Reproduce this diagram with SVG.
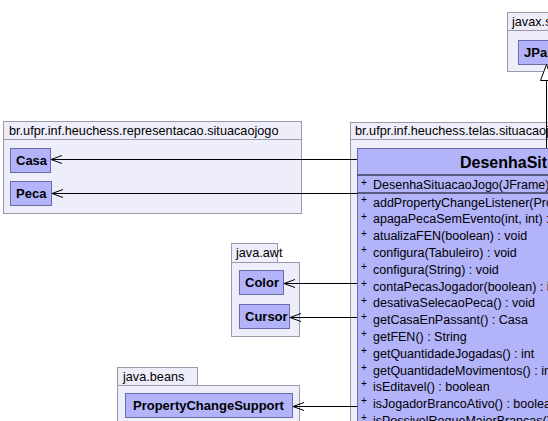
<svg xmlns="http://www.w3.org/2000/svg" width="548" height="421" viewBox="0 0 548 421">
<style>
.pkg{fill:#eeeefa;stroke:#9a9aac;stroke-width:1}
.cls{fill:#b3b3fa;stroke:#6a6aa6;stroke-width:1}
.pl{font-family:"Liberation Sans",Arial,sans-serif;font-size:12.7px;fill:#000}
.cn{font-family:"Liberation Sans",Arial,sans-serif;font-size:13px;font-weight:bold;fill:#000}
.big{font-family:"Liberation Sans",Arial,sans-serif;font-size:16px;font-weight:bold;fill:#000}
.m{font-family:"Liberation Sans",Arial,sans-serif;font-size:12.5px;fill:#000}
.pls{font-family:"Liberation Sans",Arial,sans-serif;font-size:10px;fill:#000}
.ln{fill:none;stroke:#000;stroke-width:1}
</style>
<defs>
<marker id="open" markerWidth="12" markerHeight="10" refX="11" refY="5" orient="auto" markerUnits="userSpaceOnUse">
<path d="M0,1 L11,5 L0,9" fill="none" stroke="#000" stroke-width="1"/>
</marker>
</defs>

<g id="pkg-javax">
<rect class="pkg" x="507.5" y="12.5" width="60" height="18"/>
<rect class="pkg" x="507.5" y="30.5" width="60" height="41"/>
<text class="pl" x="512" y="26">javax.swing</text>
</g>
<g id="JPanel">
<rect class="cls" x="518.5" y="40.5" width="60" height="24"/>
<text class="cn" x="524" y="57">JPanel</text>
</g>

<g id="pkg-representacao">
<rect class="pkg" x="3.5" y="121.5" width="298" height="18"/>
<rect class="pkg" x="3.5" y="139.5" width="298" height="74"/>
<text class="pl" x="9" y="135">br.ufpr.inf.heuchess.representacao.situacaojogo</text>
</g>
<g id="Casa">
<rect class="cls" x="10.5" y="148.5" width="40" height="24"/>
<text class="cn" x="16" y="165">Casa</text>
</g>
<g id="Peca">
<rect class="cls" x="10.5" y="181.5" width="41" height="24"/>
<text class="cn" x="16" y="198">Peca</text>
</g>

<g id="pkg-awt">
<rect class="pkg" x="231.5" y="243.5" width="46" height="19"/>
<rect class="pkg" x="231.5" y="262.5" width="68" height="74"/>
<text class="pl" x="236" y="257">java.awt</text>
</g>
<g id="Color">
<rect class="cls" x="239.5" y="270.5" width="44" height="24"/>
<text class="cn" x="245" y="287">Color</text>
</g>
<g id="Cursor">
<rect class="cls" x="239.5" y="304.5" width="50" height="24"/>
<text class="cn" x="245" y="321">Cursor</text>
</g>

<g id="pkg-beans">
<rect class="pkg" x="117.5" y="367.5" width="80" height="18"/>
<rect class="pkg" x="117.5" y="385.5" width="182" height="60"/>
<text class="pl" x="123" y="381">java.beans</text>
</g>
<g id="PropertyChangeSupport">
<rect class="cls" x="125.5" y="393.5" width="167" height="24"/>
<text class="cn" x="133" y="410">PropertyChangeSupport</text>
</g>

<g id="pkg-telas">
<rect class="pkg" x="350.5" y="122.5" width="300" height="17"/>
<rect class="pkg" x="350.5" y="139.5" width="300" height="300"/>
<text class="pl" x="355" y="135">br.ufpr.inf.heuchess.telas.situacaojogo</text>
</g>
<g id="DesenhaSituacaoJogo">
<rect class="cls" x="357.5" y="148.5" width="370" height="300"/>
<line class="ln" x1="357.5" y1="175" x2="727.5" y2="175" stroke="#6a6aa6"/>
<line class="ln" x1="357.5" y1="193" x2="727.5" y2="193" stroke="#6a6aa6"/>
<text class="big" x="460" y="168">DesenhaSituacaoJogo</text>
<text class="pls" x="361" y="186">+</text><text class="m" x="373" y="189">DesenhaSituacaoJogo(JFrame)</text>
<text class="pls" x="361" y="203">+</text><text class="m" x="373" y="206.5">addPropertyChangeListener(PropertyChangeListener) : void</text>
<text class="pls" x="361" y="220">+</text><text class="m" x="373" y="223.3">apagaPecaSemEvento(int, int) : void</text>
<text class="pls" x="361" y="237">+</text><text class="m" x="373" y="240.1">atualizaFEN(boolean) : void</text>
<text class="pls" x="361" y="253">+</text><text class="m" x="373" y="256.9">configura(Tabuleiro) : void</text>
<text class="pls" x="361" y="270">+</text><text class="m" x="373" y="273.7">configura(String) : void</text>
<text class="pls" x="361" y="287">+</text><text class="m" x="373" y="290.5">contaPecasJogador(boolean) : int</text>
<text class="pls" x="361" y="304">+</text><text class="m" x="373" y="307.3">desativaSelecaoPeca() : void</text>
<text class="pls" x="361" y="320">+</text><text class="m" x="373" y="324.1">getCasaEnPassant() : Casa</text>
<text class="pls" x="361" y="337">+</text><text class="m" x="373" y="340.9">getFEN() : String</text>
<text class="pls" x="361" y="354">+</text><text class="m" x="373" y="357.7">getQuantidadeJogadas() : int</text>
<text class="pls" x="361" y="371">+</text><text class="m" x="373" y="374.5">getQuantidadeMovimentos() : int</text>
<text class="pls" x="361" y="387">+</text><text class="m" x="373" y="391.3">isEditavel() : boolean</text>
<text class="pls" x="361" y="404">+</text><text class="m" x="373" y="408.1">isJogadorBrancoAtivo() : boolean</text>
<text class="pls" x="361" y="421">+</text><text class="m" x="373" y="424.9">isPossivelRoqueMaiorBrancas() : boolean</text>
</g>

<g id="connectors">
<line class="ln" x1="357" y1="159.5" x2="51" y2="159.5" marker-end="url(#open)"/>
<line class="ln" x1="357" y1="193.5" x2="52" y2="193.5" marker-end="url(#open)"/>
<line class="ln" x1="357" y1="283.5" x2="284" y2="283.5" marker-end="url(#open)"/>
<line class="ln" x1="357" y1="317.5" x2="290" y2="317.5" marker-end="url(#open)"/>
<line class="ln" x1="357" y1="406.5" x2="293" y2="406.5" marker-end="url(#open)"/>
<line class="ln" x1="546.5" y1="148" x2="546.5" y2="80"/>
<path d="M546.5,64.5 L540.5,80.5 L552.5,80.5 Z" fill="#fff" stroke="#000" stroke-width="1"/>
</g>
</svg>
